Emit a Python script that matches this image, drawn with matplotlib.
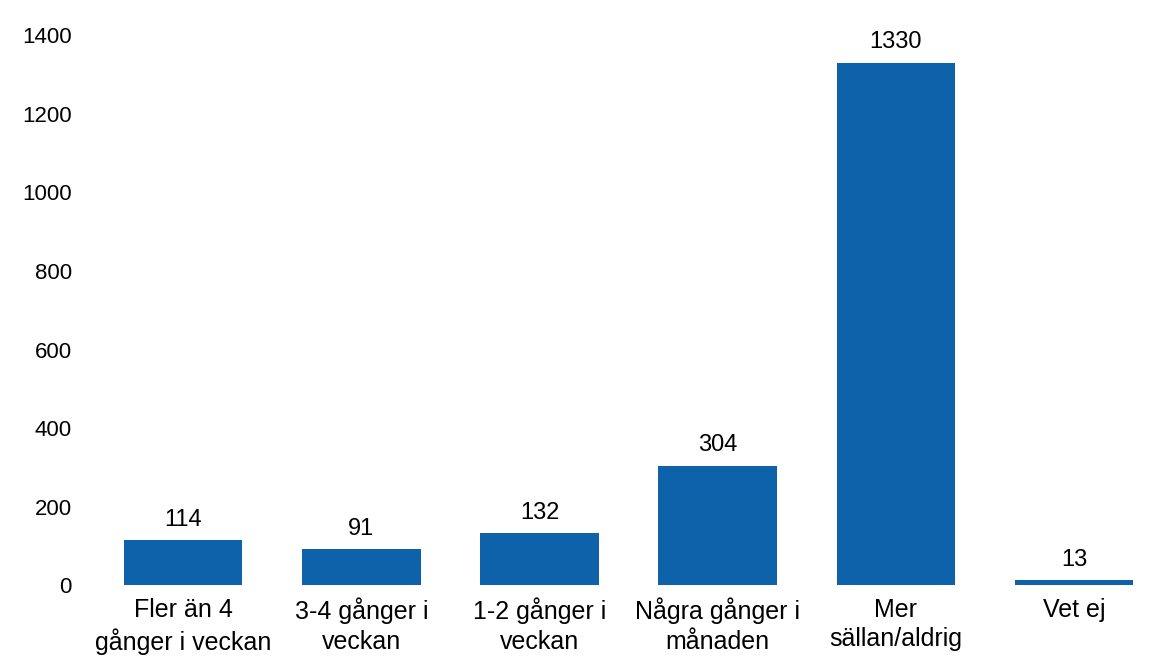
import matplotlib.pyplot as plt

plt.rcParams['font.family'] = ['Liberation Sans', 'DejaVu Sans']

categories = ['Fler än 4\ngånger i veckan', '3-4 gånger i\nveckan', '1-2 gånger i\nveckan',
              'Några gånger i\nmånaden', 'Mer\nsällan/aldrig', 'Vet ej']
values = [114, 91, 132, 304, 1330, 13]
yticks = [0, 200, 400, 600, 800, 1000, 1200, 1400]

fig = plt.figure(figsize=(11.76, 6.65), dpi=100)
ax = fig.add_axes([0.08, 0.12, 0.909, 0.827])

x = range(len(values))
bars = ax.bar(x, values, width=0.665, color='#0D62AA')
for xi, v in zip(x, values):
    ax.text(xi, v + 24, str(v), ha='center', va='bottom', fontsize=17)

ax.set_xlim(-0.5, len(values) - 0.5)
ax.set_ylim(0, 1400)
ax.set_yticks(yticks)
ax.set_yticklabels([str(t) for t in yticks], fontsize=16)
ax.set_xticks(list(x))
ax.set_xticklabels(categories, fontsize=18, linespacing=1.3)
ax.tick_params(length=0)
ax.tick_params(axis='x', pad=9)
ax.tick_params(axis='y', pad=16)
for s in ax.spines.values():
    s.set_visible(False)

fig.savefig('out.png', dpi=100)
